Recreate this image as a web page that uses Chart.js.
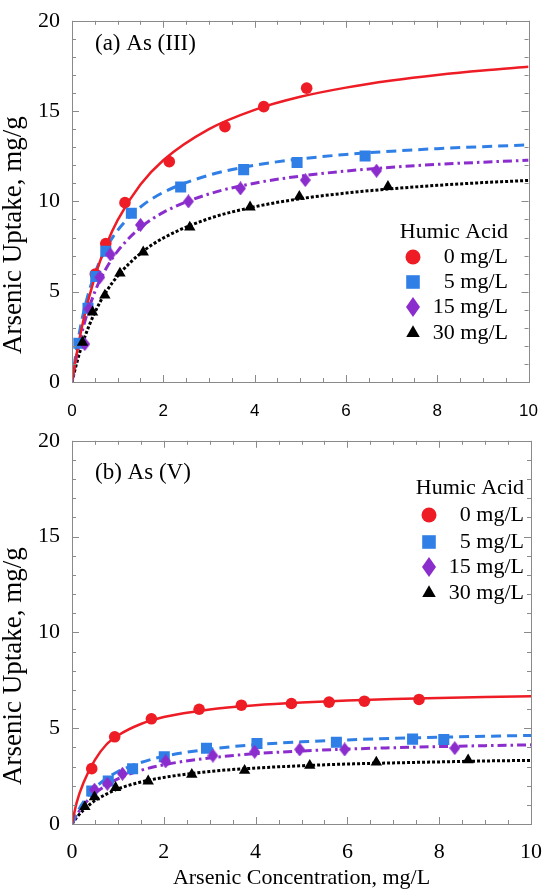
<!DOCTYPE html>
<html><head><meta charset="utf-8">
<script src="https://cdn.jsdelivr.net/npm/chart.js@4.4.1/dist/chart.umd.min.js"></script>
<style>
html,body{margin:0;padding:0;background:#fff;overflow:hidden;width:557px;height:892px;}
#wa{position:absolute;left:0;top:0;width:557px;height:420px;}
#wb{position:absolute;left:0;top:420px;width:557px;height:480px;}
</style></head><body>
<div id="wa"><canvas id="ca"></canvas></div>
<div id="wb"><canvas id="cb"></canvas></div>
<script>
// ---------- data ----------
const seriesLabels = ['0 mg/L', '5 mg/L', '15 mg/L', '30 mg/L'];
const legendTitle = 'Humic Acid';
const panelLabels = ['(a) As (III)', '(b) As (V)'];
const xTitle = 'Arsenic Concentration, mg/L';
const yTitle = 'Arsenic Uptake, mg/g';

// Panel (a) As(III) measured points
const a0x = [0.51, 0.74, 1.16, 2.13, 3.35, 4.2, 5.14];
const a0y = [5.98, 7.67, 9.93, 12.2, 14.14, 15.25, 16.27];
const a5x = [0.15, 0.35, 0.52, 0.74, 1.3, 2.38, 3.76, 4.93, 6.42];
const a5y = [2.15, 4.08, 5.84, 7.24, 9.34, 10.8, 11.76, 12.15, 12.51];
const a15x = [0.28, 0.37, 0.61, 0.84, 1.5, 2.55, 3.69, 5.11, 6.67];
const a15y = [2.1, 4.05, 5.8, 7.06, 8.7, 10.0, 10.72, 11.18, 11.7];
const a30x = [0.23, 0.45, 0.72, 1.05, 1.56, 2.58, 3.9, 4.98, 6.92];
const a30y = [2.19, 3.87, 4.8, 6.02, 7.19, 8.57, 9.68, 10.27, 10.82];

// Fitted curves (same x positions for all)
const fitX = [0, 0.1, 0.25, 0.5, 0.75, 1, 1.5, 2, 3, 4, 5, 6, 7, 8, 9, 10];
const a0fit = [0, 1.53, 3.42, 5.82, 7.59, 8.96, 10.93, 12.28, 14.0, 15.07, 15.79, 16.3, 16.69, 17.0, 17.25, 17.45];
const a5fit = [0, 1.83, 3.82, 6.0, 7.41, 8.4, 9.69, 10.5, 11.45, 12.0, 12.35, 12.6, 12.78, 12.92, 13.03, 13.13];
const a15fit = [0, 1.43, 3.07, 4.99, 6.3, 7.25, 8.55, 9.39, 10.41, 11.01, 11.4, 11.68, 11.89, 12.05, 12.17, 12.28];
const a30fit = [0, 1.02, 2.28, 3.85, 5.0, 5.87, 7.12, 7.97, 9.05, 9.7, 10.15, 10.46, 10.7, 10.89, 11.04, 11.16];

// Panel (b) As(V) measured points
const b0x = [0.43, 0.93, 1.73, 2.77, 3.69, 4.78, 5.6, 6.37, 7.56];
const b0y = [2.89, 4.55, 5.49, 5.99, 6.2, 6.29, 6.36, 6.41, 6.5];
const b5x = [0.43, 0.79, 1.32, 2.01, 2.93, 4.03, 5.76, 7.42, 8.1];
const b5y = [1.72, 2.24, 2.88, 3.51, 3.95, 4.2, 4.27, 4.43, 4.41];
const b15x = [0.49, 0.77, 1.1, 2.04, 3.07, 3.98, 4.96, 5.94, 8.34];
const b15y = [1.79, 2.1, 2.62, 3.27, 3.57, 3.77, 3.89, 3.89, 3.96];
const b30x = [0.28, 0.49, 0.95, 1.66, 2.61, 3.76, 5.18, 6.63, 8.63];
const b30y = [0.9, 1.41, 1.9, 2.24, 2.58, 2.79, 3.05, 3.22, 3.34];

const b0fit = [0, 1.1, 2.15, 3.35, 4.15, 4.62, 5.22, 5.58, 5.98, 6.2, 6.34, 6.44, 6.52, 6.58, 6.63, 6.67];
const b5fit = [0, 0.54, 1.15, 1.88, 2.37, 2.73, 3.21, 3.53, 3.91, 4.14, 4.29, 4.39, 4.47, 4.53, 4.58, 4.62];
const b15fit = [0, 0.45, 0.97, 1.6, 2.03, 2.36, 2.8, 3.09, 3.45, 3.67, 3.81, 3.91, 3.98, 4.04, 4.09, 4.13];
const b30fit = [0, 0.33, 0.73, 1.22, 1.56, 1.83, 2.19, 2.43, 2.74, 2.92, 3.04, 3.13, 3.19, 3.24, 3.29, 3.32];

// ---------- styles ----------
const SERIF = "'Liberation Serif', 'Times New Roman', serif";
const SANS = "'Liberation Sans', Arial, sans-serif";
const colors = ['#ee1c25', '#2f7fe6', '#8b2dcc', '#000000'];
const dashes = [[], [10, 6], [9, 4, 2.5, 4], [3, 2]];
const lineWidths = [2.5, 3, 3, 3];

function diamond(w, h, color) {
  const c = document.createElement('canvas');
  c.width = w; c.height = h;
  const g = c.getContext('2d');
  g.fillStyle = color;
  g.beginPath();
  g.moveTo(w / 2, 0); g.lineTo(w, h / 2); g.lineTo(w / 2, h); g.lineTo(0, h / 2);
  g.closePath(); g.fill();
  return c;
}
const dataStyles = [
  {pointStyle: 'circle', radius: 5.8},
  {pointStyle: 'rect', radius: 7.8},
  {pointStyle: diamond(11, 14, colors[2]), radius: 7},
  {pointStyle: 'triangle', radius: 6.6}
];
const legendStyles = [
  {pointStyle: 'circle', radius: 7.5},
  {pointStyle: 'rect', radius: 9.6},
  {pointStyle: diamond(14, 20, colors[2]), radius: 9},
  {pointStyle: 'triangle', radius: 7.8}
];

function zip(xs, ys) { return xs.map((x, i) => ({x: x, y: ys[i]})); }

function buildDatasets(pts, fits) {
  const ds = [];
  pts.forEach((p, i) => {
    ds.push({
      label: seriesLabels[i], data: zip(p[0], p[1]), showLine: false,
      pointStyle: dataStyles[i].pointStyle, pointRadius: dataStyles[i].radius,
      pointHoverRadius: dataStyles[i].radius,
      pointBackgroundColor: colors[i], pointBorderWidth: 0, pointBorderColor: colors[i],
      order: 3 - i
    });
  });
  fits.forEach((f, i) => {
    ds.push({
      label: seriesLabels[i] + ' fit', data: zip(fitX, f), showLine: true,
      borderColor: colors[i], borderWidth: lineWidths[i], borderDash: dashes[i],
      pointRadius: 0, cubicInterpolationMode: 'monotone', fill: false,
      order: 10 + i
    });
  });
  return ds;
}

// ticks + frame + legend + panel label
const decorPlugin = {
  id: 'decor',
  afterDraw(chart, args, o) {
    const ctx = chart.ctx;
    const a = chart.chartArea;
    const xs = chart.scales.x, ys = chart.scales.y;
    ctx.save();
    ctx.strokeStyle = '#8a8a8a';
    ctx.lineWidth = 1;
    ctx.setLineDash([]);
    ctx.strokeRect(Math.round(a.left) + 0.5, Math.round(a.top) + 0.5, Math.round(a.right - a.left), Math.round(a.bottom - a.top));
    ctx.beginPath();
    for (let v = 0; v <= 10.001; v += 0.5) {
      const px = Math.round(xs.getPixelForValue(v)) + 0.5;
      const major = Math.abs(v / 2 - Math.round(v / 2)) < 1e-6;
      const L = major ? 7 : 4;
      ctx.moveTo(px, a.bottom); ctx.lineTo(px, a.bottom - L);
      ctx.moveTo(px, a.top); ctx.lineTo(px, a.top + L);
    }
    for (let v = 0; v <= 20.001; v += 1) {
      const py = Math.round(ys.getPixelForValue(v)) + 0.5;
      const major = v % 5 === 0;
      const L = major ? 7 : 4;
      ctx.moveTo(a.left, py); ctx.lineTo(a.left + L, py);
      ctx.moveTo(a.right, py); ctx.lineTo(a.right - L, py);
    }
    ctx.stroke();
    // panel label
    ctx.fillStyle = '#000';
    ctx.font = '23px ' + SERIF;
    ctx.textAlign = 'left';
    ctx.textBaseline = 'middle';
    ctx.fillText(o.panel, o.panelX, o.panelY);
    // legend
    ctx.font = '22px ' + SERIF;
    ctx.textAlign = 'right';
    ctx.fillText(legendTitle, o.legRight, o.legTitleY);
    o.legRows.forEach((ry, i) => {
      ctx.fillStyle = '#000';
      ctx.fillText(seriesLabels[i], o.legRight, ry);
      ctx.fillStyle = colors[i];
      ctx.beginPath();
      Chart.helpers.drawPoint(ctx, {pointStyle: legendStyles[i].pointStyle, radius: legendStyles[i].radius, rotation: 0, borderWidth: 0}, o.legMarkX, ry);
    });
    ctx.restore();
  }
};

function makeChart(id, pts, fits, cfg) {
  return new Chart(document.getElementById(id), {
    type: 'scatter',
    data: {datasets: buildDatasets(pts, fits)},
    plugins: [decorPlugin],
    options: {
      responsive: true, maintainAspectRatio: false, animation: false,
      devicePixelRatio: 1,
      layout: {padding: {top: cfg.padTop, right: 14, left: 0, bottom: 0}},
      plugins: {
        legend: {display: false}, tooltip: {enabled: false},
        decor: cfg.decor
      },
      scales: {
        x: {
          type: 'linear', min: 0, max: 10,
          ticks: {stepSize: 2, color: '#000', font: cfg.xTickFont, padding: cfg.xTickPad, maxRotation: 0, autoSkip: false},
          grid: {display: false, drawTicks: false}, border: {display: false},
          title: {display: cfg.showXTitle, text: xTitle, color: '#000', font: {family: SERIF, size: 22, lineHeight: 1.2}, padding: {top: 0, bottom: cfg.xTitlePad}},
          afterFit: s => { s.height = cfg.xAxisH; }
        },
        y: {
          type: 'linear', min: 0, max: 20,
          ticks: {stepSize: 5, color: '#000', font: {family: SERIF, size: 22, lineHeight: 0.8}, padding: 12},
          grid: {display: false, drawTicks: false}, border: {display: false},
          title: {display: true, text: yTitle + '\u00a0'.repeat(10), color: '#000', font: {family: SERIF, size: 27, lineHeight: 1}, padding: {top: 0, bottom: 0}},
          afterFit: s => { s.width = 72; }
        }
      }
    }
  });
}

makeChart('ca',
  [[a0x, a0y], [a5x, a5y], [a15x, a15y], [a30x, a30y]],
  [a0fit, a5fit, a15fit, a30fit],
  {padTop: 10, xAxisH: 38, xTickPad: 19, xTickFont: {family: SANS, size: 17}, showXTitle: false, xTitlePad: 0,
   decor: {panel: panelLabels[0], panelX: 95, panelY: 44, legRight: 508, legMarkX: 413, legTitleY: 232, legRows: [257, 282, 307, 333]}});

makeChart('cb',
  [[b0x, b0y], [b5x, b5y], [b15x, b15y], [b30x, b30y]],
  [b0fit, b5fit, b15fit, b30fit],
  {padTop: 17, xAxisH: 76, xTickPad: 15, xTickFont: {family: SERIF, size: 22}, showXTitle: true, xTitlePad: 9,
   decor: {panel: panelLabels[1], panelX: 95, panelY: 53, legRight: 524, legMarkX: 429, legTitleY: 68, legRows: [95, 122, 147, 173]}});
</script>
</body></html>
